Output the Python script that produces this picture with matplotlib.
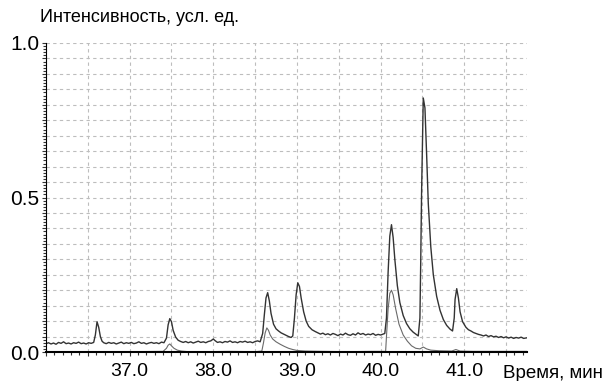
import matplotlib
matplotlib.use("Agg")
import matplotlib.pyplot as plt
from matplotlib.ticker import MultipleLocator, FuncFormatter

plt.rcParams['font.family'] = ['Liberation Sans', 'DejaVu Sans']

# upper trace (time, min / intensity)
t_upper = [36.00, 36.03, 36.06, 36.09, 36.12, 36.15, 36.18, 36.21, 36.24, 36.27,
           36.30, 36.33, 36.36, 36.39, 36.42, 36.45, 36.48, 36.51, 36.54, 36.57,
           36.59, 36.61, 36.63, 36.65, 36.67, 36.69,
           36.72, 36.75, 36.78, 36.81, 36.84, 36.87, 36.90, 36.93, 36.96, 36.99,
           37.02, 37.05, 37.08, 37.11, 37.14, 37.17, 37.20, 37.23, 37.26, 37.29,
           37.32, 37.35, 37.38, 37.41,
           37.44, 37.46, 37.48, 37.50, 37.52, 37.55, 37.58, 37.61,
           37.64, 37.67, 37.70, 37.73, 37.76, 37.79, 37.82, 37.85, 37.88, 37.91,
           37.94, 37.97, 38.00, 38.02, 38.05, 38.08, 38.11, 38.14, 38.17, 38.20,
           38.23, 38.26, 38.29, 38.32, 38.35, 38.38, 38.41, 38.44, 38.47, 38.50,
           38.53, 38.56,
           38.59, 38.61, 38.63, 38.65, 38.67, 38.69, 38.72, 38.75, 38.78, 38.81,
           38.84, 38.87, 38.90, 38.93, 38.95,
           38.97, 38.99, 39.01, 39.03, 39.05, 39.08, 39.11, 39.14, 39.18, 39.22,
           39.25, 39.28, 39.31, 39.34, 39.37, 39.40, 39.43, 39.46, 39.49, 39.52,
           39.55, 39.58, 39.61, 39.64, 39.67, 39.70, 39.73, 39.76, 39.79, 39.82,
           39.85, 39.88, 39.91, 39.94, 39.97, 40.00, 40.03, 40.05,
           40.07, 40.09, 40.11, 40.13, 40.15, 40.17, 40.20, 40.23, 40.27, 40.31,
           40.35, 40.39, 40.43, 40.45,
           40.47, 40.48, 40.49, 40.51, 40.53, 40.55, 40.57, 40.60, 40.63, 40.67,
           40.71, 40.75, 40.79, 40.83, 40.86,
           40.88, 40.89, 40.91, 40.93, 40.95, 40.98, 41.02,
           41.05, 41.08, 41.11, 41.14, 41.17, 41.20, 41.23, 41.26, 41.29, 41.32,
           41.35, 41.38, 41.41, 41.44, 41.47, 41.50, 41.53, 41.56, 41.59, 41.62,
           41.65, 41.68, 41.71, 41.75]
i_upper = [.027, .030, .026, .029, .025, .031, .028, .033, .027, .029,
           .026, .030, .028, .032, .027, .029, .026, .030, .028, .031,
           .055, .098, .080, .050, .035, .030,
           .027, .031, .028, .030, .026, .029, .032, .027, .030, .028,
           .031, .027, .029, .033, .028, .030, .026, .029, .031, .028,
           .030, .027, .032, .030,
           .045, .088, .108, .098, .070, .048, .038, .034,
           .031, .034, .030, .033, .029, .032, .035, .031, .033, .030,
           .034, .036, .042, .037, .031, .033, .030, .034, .032, .036,
           .031, .033, .030, .034, .032, .035, .031, .033, .030, .034,
           .036, .033,
           .060, .120, .175, .192, .165, .125, .090, .075, .068, .062,
           .058, .054, .050, .047, .052,
           .110, .185, .224, .212, .175, .130, .100, .083, .072, .066,
           .062, .058, .061, .056, .059, .055, .060, .057, .053, .058,
           .055, .061, .056, .054, .059, .055, .062, .057, .060, .055,
           .058, .056, .060, .054, .057, .055, .058, .060,
           .110, .260, .375, .412, .370, .300, .215, .160, .118, .092,
           .075, .064, .056, .052,
           .110, .300, .520, .822, .790, .640, .480, .340, .250, .180,
           .135, .105, .086, .074, .068,
           .110, .170, .205, .175, .130, .098, .080,
           .072, .068, .063, .060, .057, .055, .052, .055, .050, .053,
           .049, .051, .047, .050, .046, .049, .045, .048, .044, .047,
           .045, .048, .044, .046]

# lower trace
t_lower = [36.00, 36.50, 37.00, 37.40, 37.44, 37.46, 37.48, 37.50, 37.53, 37.57,
           37.62, 37.70, 37.90, 38.20, 38.50, 38.58, 38.60, 38.62, 38.64, 38.66,
           38.68, 38.71, 38.75, 38.80, 38.85, 38.90, 38.95, 39.00, 39.10, 39.30,
           39.60, 39.90, 40.06, 40.07, 40.09, 40.11, 40.13, 40.15, 40.18, 40.22,
           40.27, 40.32, 40.37, 40.42, 40.47, 40.51, 40.55, 40.60, 40.70, 40.85,
           40.90, 40.95, 41.10, 41.40, 41.75]
i_lower = [.001, .001, .001, .002, .012, .022, .026, .020, .012, .006,
           .003, .001, .001, .002, .001, .003, .030, .062, .078, .070,
           .055, .042, .033, .025, .018, .012, .008, .005, .003, .002,
           .001, .002, .002, .050, .140, .190, .200, .185, .140, .090,
           .055, .035, .020, .012, .010, .016, .010, .006, .004, .003,
           .008, .003, .002, .002, .002]

x_labels = [37.0, 38.0, 39.0, 40.0, 41.0]
y_labels = [0.0, 0.5, 1.0]

fig = plt.figure(figsize=(6.09, 3.81), dpi=100)
ax = fig.add_axes([46 / 609, 1 - 352 / 381, 481 / 609, 309 / 381])

ax.plot(t_lower, i_lower, color='#6a6a6a', lw=0.8)
ax.plot(t_upper, i_upper, color='#333333', lw=1.0)

ax.set_xlim(36.0, 41.75)
ax.set_ylim(0, 1.0)

ax.xaxis.set_major_locator(MultipleLocator(0.5))
ax.xaxis.set_minor_locator(MultipleLocator(0.1))
ax.yaxis.set_major_locator(MultipleLocator(0.05))
ax.yaxis.set_minor_locator(MultipleLocator(0.01))


def fmt_x(v, pos):
    for lab in x_labels:
        if abs(v - lab) < 1e-6:
            return f"{lab:.1f}"
    return ""


def fmt_y(v, pos):
    for lab in y_labels:
        if abs(v - lab) < 1e-6:
            return f"{lab:.1f}"
    return ""


ax.xaxis.set_major_formatter(FuncFormatter(fmt_x))
ax.yaxis.set_major_formatter(FuncFormatter(fmt_y))

ax.grid(True, which='major', color='#bdbdbd', ls=(0, (3, 3)), lw=0.8)
ax.tick_params(which='both', direction='out', color='#333333', width=0.8)
ax.tick_params(which='major', length=3)
ax.tick_params(which='minor', length=2)
ax.tick_params(axis='y', which='major', labelsize=15, pad=2)
ax.tick_params(axis='x', which='major', labelsize=14, pad=5)

for s in ['top', 'right']:
    ax.spines[s].set_visible(False)
ax.spines['left'].set_linewidth(0.8)
ax.spines['bottom'].set_linewidth(1.5)

fig.text(40 / 609, 1 - 18 / 381, "Интенсивность, усл. ед.", fontsize=13,
         va='center', ha='left')
fig.text(503 / 609, 1 - 373 / 381, "Время, мин", fontsize=13.5,
         va='center', ha='left')

fig.savefig("out.png", dpi=100)
